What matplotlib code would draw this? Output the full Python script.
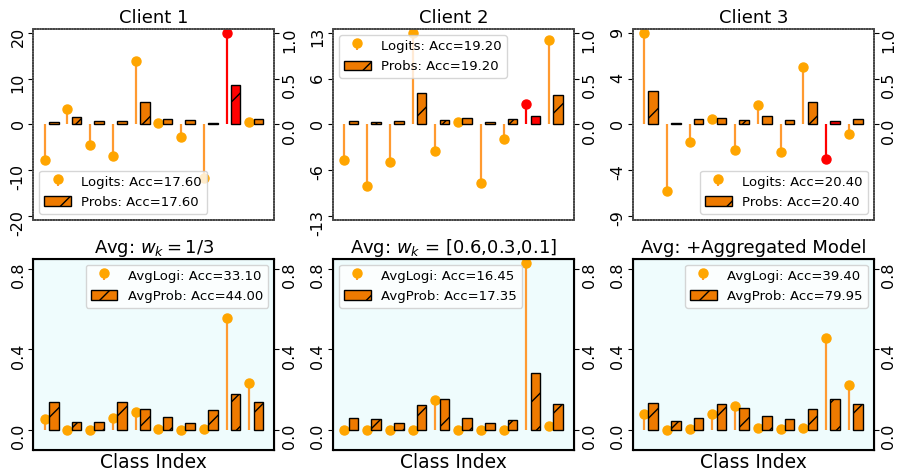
import numpy as np
import matplotlib
matplotlib.use("Agg")
import matplotlib.pyplot as plt
from matplotlib.legend_handler import HandlerStem
from matplotlib.container import StemContainer

# ── Data ──────────────────────────────────────────────────────────────────────
classes = np.arange(10)
true_class = 8

client_titles = ["Client 1", "Client 2", "Client 3"]
client_logits = [
    [-7.7, 3.3, -4.5, -6.8, 13.8, 0.4, -2.8, -11.8, 20.0, 0.6],
    [-5.1, -8.75, -5.3, 13.0, -3.8, 0.3, -8.4, -2.0, 2.9, 12.05],
    [9.0, -6.55, -1.7, 0.5, -2.5, 1.9, -2.75, 5.7, -3.45, -0.9],
]
client_probs = [
    [0.03, 0.085, 0.035, 0.035, 0.245, 0.065, 0.05, 0.02, 0.435, 0.065],
    [0.04, 0.025, 0.04, 0.34, 0.045, 0.07, 0.025, 0.055, 0.095, 0.32],
    [0.37, 0.015, 0.06, 0.075, 0.05, 0.09, 0.05, 0.25, 0.035, 0.06],
]
client_logit_acc = [17.60, 19.20, 20.40]
client_prob_acc = [17.60, 19.20, 20.40]
client_max = [20, 13, 9]          # symmetric range of the logit axis
client_prob_ticks = [0.0, 0.5, 1.0]

avg_titles = [r"Avg: $w_k = 1/3$", r"Avg: $w_k$ = [0.6,0.3,0.1]",
              "Avg: +Aggregated Model"]
avg_logits = [
    [0.053, 0.0, 0.0, 0.058, 0.09, 0.002, 0.0, 0.002, 0.555, 0.23],
    [0.0, 0.0, 0.0, 0.0, 0.149, 0.0, 0.0, 0.0, 0.83, 0.017],
    [0.078, 0.0, 0.005, 0.079, 0.116, 0.007, 0.005, 0.01, 0.456, 0.223],
]
avg_probs = [
    [0.137, 0.038, 0.038, 0.14, 0.104, 0.065, 0.035, 0.10, 0.18, 0.137],
    [0.06, 0.051, 0.035, 0.122, 0.155, 0.058, 0.033, 0.046, 0.28, 0.13],
    [0.134, 0.045, 0.056, 0.13, 0.106, 0.069, 0.051, 0.104, 0.155, 0.129],
]
avg_logit_acc = [33.10, 16.45, 39.40]
avg_prob_acc = [44.00, 17.35, 79.95]
avg_ticks = [0.0, 0.4, 0.8]

# ── Style ─────────────────────────────────────────────────────────────────────
STEM_C = "#ff9a30"
MARK_C = "#ffa500"
BAR_C = "#ee7a00"
HL_C = "red"
BG_C = "#effcfd"

plt.rcParams.update({
    "font.family": "DejaVu Sans",
    "font.size": 11,
    "hatch.linewidth": 1.0,
})

fig, axes = plt.subplots(2, 3, figsize=(8.99, 4.75), dpi=100)
fig.subplots_adjust(left=0.037, right=0.972, bottom=0.053, top=0.939,
                    wspace=0.243, hspace=0.204)

OFF, W = 0.4, 0.42
STEM_HANDLER = {StemContainer: HandlerStem(yoffsets=[0.75])}


def draw_panel(ax, logits, probs, lab_l, lab_p, highlight):
    logits = np.asarray(logits)
    probs = np.asarray(probs)
    ax2 = ax.twinx()

    mask = np.ones(len(classes), bool) if highlight is None else classes != highlight
    sc = ax.stem(classes[mask], logits[mask], linefmt="-", markerfmt="o",
                 basefmt=" ", label=lab_l)
    plt.setp(sc.stemlines, color=STEM_C, linewidth=1.6)
    plt.setp(sc.markerline, color=MARK_C, markersize=6.5)
    if highlight is not None:
        hc = ax.stem(classes[~mask], logits[~mask], linefmt="-", markerfmt="o",
                     basefmt=" ")
        plt.setp(hc.stemlines, color=HL_C, linewidth=1.6)
        plt.setp(hc.markerline, color=HL_C, markersize=6.5)

    colors = [HL_C if c == highlight else BAR_C for c in classes]
    bc = ax2.bar(classes + OFF, probs, W, color=colors, edgecolor="black",
                 linewidth=1.0, hatch="/", label=lab_p)
    for ax_ in (ax, ax2):
        ax_.set_xlim(-0.5, 10.1)
        ax_.set_xticks([])
        ax_.tick_params(axis="y", labelrotation=90, labelsize=11.5, pad=2)
    return ax2, sc, bc


legend_locs_top = ["lower left", "upper left", "lower right"]
for j in range(3):
    ax = axes[0, j]
    ax2, sc, bc = draw_panel(ax, client_logits[j], client_probs[j],
                             f"Logits: Acc={client_logit_acc[j]:.2f}",
                             f"Probs: Acc={client_prob_acc[j]:.2f}", true_class)
    m = client_max[j]
    ticks = np.linspace(-m, m, 5)
    ax.set_ylim(-m * 1.045, m * 1.045)
    ax.set_yticks(ticks)
    ax.set_yticklabels([str(int(t)) for t in ticks])
    ax2.set_ylim(-1.045, 1.045)
    ax2.set_yticks(client_prob_ticks)
    ax2.set_yticklabels([f"{t:.1f}" for t in client_prob_ticks])
    ax.set_title(client_titles[j], fontsize=13, pad=4)
    for sp in ax2.spines.values():
        sp.set_linestyle((0, (1, 0.6)))
        sp.set_color("#444444")
        sp.set_linewidth(1.2)
    for sp in ax.spines.values():
        sp.set_visible(False)
    ax2.legend(handles=[sc, bc], loc=legend_locs_top[j], fontsize=9.5,
               handler_map=STEM_HANDLER, borderaxespad=0.45)

legend_locs_bot = ["upper right", "upper left", "upper right"]
for j in range(3):
    ax = axes[1, j]
    ax2, sc, bc = draw_panel(ax, avg_logits[j], avg_probs[j],
                             f"AvgLogi: Acc={avg_logit_acc[j]:.2f}",
                             f"AvgProb: Acc={avg_prob_acc[j]:.2f}", None)
    ax.set_facecolor(BG_C)
    for ax_ in (ax, ax2):
        ax_.set_ylim(-0.1, 0.85)
        ax_.set_yticks(avg_ticks)
        ax_.set_yticklabels([f"{t:.1f}" for t in avg_ticks])
    ax.set_title(avg_titles[j], fontsize=13, pad=4)
    ax.set_xlabel("Class Index", fontsize=13.5, labelpad=2)
    for sp in ax2.spines.values():
        sp.set_color("black")
        sp.set_linewidth(1.5)
    ax2.legend(handles=[sc, bc], loc=legend_locs_bot[j], fontsize=9.5,
               handler_map=STEM_HANDLER, borderaxespad=0.45)

fig.savefig("out.png", dpi=100)
